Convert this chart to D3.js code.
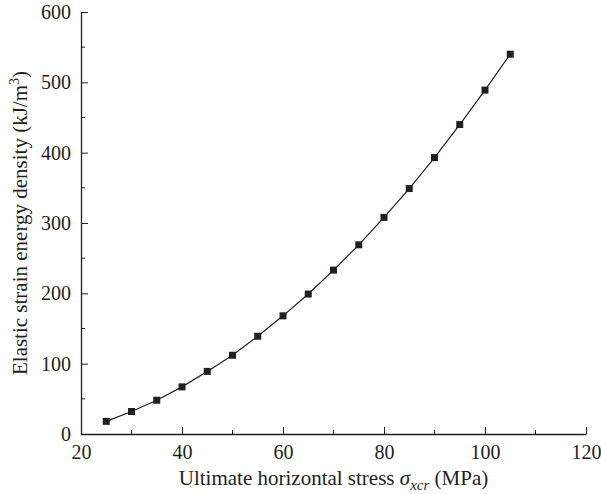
<!DOCTYPE html>
<html>
<head>
<meta charset="utf-8">
<script src="https://cdn.jsdelivr.net/npm/d3@7"></script>
<style>
  body { margin: 0; background: #fff; }
  svg text { font-family: "Liberation Serif", "DejaVu Serif", serif; fill: #231f20; }
</style>
</head>
<body>
<div id="chart"></div>
<script>
// values
const stress = [25, 30, 35, 40, 45, 50, 55, 60, 65, 70, 75, 80, 85, 90, 95, 100, 105];
const energy = [18, 32, 48, 67, 89, 112, 139, 168, 199, 233, 269, 308, 349, 393, 440, 489, 540];
const xTicks = [20, 40, 60, 80, 100, 120];
const yTicks = [0, 100, 200, 300, 400, 500, 600];

const width = 601, height = 494;
const margin = { left: 81, right: 15, top: 12, bottom: 60 };
const ink = "#231f20";

const data = stress.map((d, i) => [d, energy[i]]);

const xScale = d3.scaleLinear()
    .domain([20, 120])
    .range([margin.left, 586]);

const yScale = d3.scaleLinear()
    .domain([0, 600])
    .range([434, margin.top]);

const svg = d3.select("#chart")
    .append("svg")
    .attr("width", width)
    .attr("height", height);

// minor ticks (inward)
const xMinor = d3.range(30, 120, 20);
const yMinor = d3.range(50, 600, 100);

svg.append("g")
    .selectAll("line")
    .data(xMinor)
    .enter()
    .append("line")
    .attr("x1", d => xScale(d)).attr("x2", d => xScale(d))
    .attr("y1", yScale(0)).attr("y2", yScale(0) - 4)
    .attr("stroke", ink).attr("stroke-width", 1);

svg.append("g")
    .selectAll("line")
    .data(yMinor)
    .enter()
    .append("line")
    .attr("x1", xScale(20)).attr("x2", xScale(20) + 4)
    .attr("y1", d => yScale(d)).attr("y2", d => yScale(d))
    .attr("stroke", ink).attr("stroke-width", 1);

const xAxis = d3.axisBottom(xScale)
    .tickValues(xTicks)
    .tickSizeInner(-7)
    .tickSizeOuter(0)
    .tickPadding(11);

const yAxis = d3.axisLeft(yScale)
    .tickValues(yTicks)
    .tickSizeInner(-7)
    .tickSizeOuter(0)
    .tickPadding(10);

const gx = svg.append("g")
    .attr("transform", `translate(0, ${yScale(0)})`)
    .call(xAxis);

const gy = svg.append("g")
    .attr("transform", `translate(${xScale(20)}, 0)`)
    .call(yAxis);

[gx, gy].forEach(g => {
    g.select(".domain").attr("stroke", ink).attr("stroke-width", 1.3);
    g.selectAll(".tick line").attr("stroke", ink).attr("stroke-width", 1);
    g.selectAll(".tick text")
        .style("font-family", '"Liberation Serif", serif')
        .style("font-size", "20px")
        .attr("fill", ink);
});

// curve
const line = d3.line()
    .x(d => xScale(d[0]))
    .y(d => yScale(d[1]));

svg.append("path")
    .datum(data)
    .attr("d", line)
    .attr("fill", "none")
    .attr("stroke", ink)
    .attr("stroke-width", 1.2);

svg.selectAll("rect.pt")
    .data(data)
    .enter()
    .append("rect")
    .attr("class", "pt")
    .attr("x", d => xScale(d[0]) - 3.5)
    .attr("y", d => yScale(d[1]) - 3.5)
    .attr("width", 7)
    .attr("height", 7)
    .attr("fill", ink);

// axis titles, centred on the plot area
const xTitle = svg.append("text")
    .attr("x", (xScale(20) + xScale(120)) / 2)
    .attr("y", 485)
    .style("font-size", "21px")
    .style("text-anchor", "middle");
xTitle.append("tspan").text("Ultimate horizontal stress ");
xTitle.append("tspan").style("font-style", "italic").text("σ");
xTitle.append("tspan").style("font-style", "italic").style("font-size", "15px")
    .attr("dy", 5).text("xcr");
xTitle.append("tspan").attr("dy", -5).text(" (MPa)");

const yTitle = svg.append("text")
    .attr("transform", `translate(27, ${(yScale(0) + yScale(600)) / 2}) rotate(-90)`)
    .style("font-size", "21px")
    .style("text-anchor", "middle");
yTitle.append("tspan").text("Elastic strain energy density (kJ/m");
yTitle.append("tspan").style("font-size", "14px").attr("dy", -8).text("3");
yTitle.append("tspan").attr("dy", 8).text(")");
</script>
</body>
</html>
